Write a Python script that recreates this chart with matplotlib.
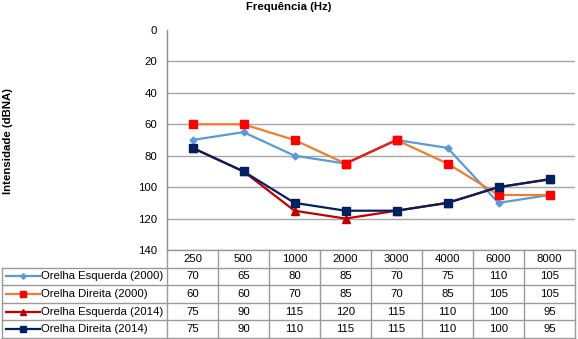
import numpy as np
import matplotlib
matplotlib.use('Agg')
import matplotlib.pyplot as plt

plt.rcParams['font.family'] = ['Liberation Sans', 'DejaVu Sans']

# - Chart data
freqs = ['250', '500', '1000', '2000', '3000', '4000', '6000', '8000']
series_names = ['Orelha Esquerda (2000)', 'Orelha Direita (2000)',
                'Orelha Esquerda (2014)', 'Orelha Direita (2014)']
esq_2000 = [70, 65, 80, 85, 70, 75, 110, 105]
dir_2000 = [60, 60, 70, 85, 70, 85, 105, 105]
esq_2014 = [75, 90, 115, 120, 115, 110, 100, 95]
dir_2014 = [75, 90, 110, 115, 115, 110, 100, 95]
y_ticks = [0, 20, 40, 60, 80, 100, 120, 140]

# - Style for each series: line colour, marker, marker face, marker size
styles = [
    dict(color='#5b9bd5', marker='D', mfc='#5b9bd5', mec='#5b9bd5', ms=3.5),
    dict(color='#ed7d31', marker='s', mfc='#ff0000', mec='#ff0000', ms=6),
    dict(color='#c00000', marker='^', mfc='#c00000', mec='#c00000', ms=5.5),
    dict(color='#002060', marker='s', mfc='#002060', mec='#002060', ms=6),
]
all_series = [esq_2000, dir_2000, esq_2014, dir_2014]
fs = 8.2

W, H = 578, 339
fig = plt.figure(figsize=(W / 100, H / 100), dpi=100)

# - Plot area (pixel layout)
px_left, px_right, px_top, px_bot = 167, 575, 30, 250
ax = fig.add_axes([px_left / W, 1 - px_bot / H,
                   (px_right - px_left) / W, (px_bot - px_top) / H])
x = np.arange(len(freqs))
for vals, st in zip(all_series, styles):
    ax.plot(x, vals, lw=1.6, color=st['color'], marker=st['marker'],
            mfc=st['mfc'], mec=st['mec'], ms=st['ms'], zorder=3)
# - the 2000-3000 segment of Orelha Direita (2000) is drawn red
seg = slice(3, 5)
ax.plot(x[seg], np.array(dir_2000)[seg], lw=1.6, color='#e0201b', zorder=3.5)
ax.plot(x[seg], np.array(dir_2000)[seg], ls='none', marker='s', ms=6,
        mfc='#ff0000', mec='#ff0000', zorder=3.6)

ax.set_xlim(-0.5, len(freqs) - 0.5)
ax.set_ylim(140, 0)
ax.set_yticks(y_ticks)
ax.set_yticklabels([str(v) for v in y_ticks], fontsize=fs)
ax.set_xticks([])
ax.tick_params(axis='y', length=0, pad=7)
for side in ['top', 'right', 'bottom']:
    ax.spines[side].set_visible(False)
ax.spines['left'].set_color('#8c8c8c')
ax.spines['left'].set_linewidth(1.0)
ax.yaxis.grid(True, color='#a6a6a6', lw=1.0)
ax.get_ygridlines()[0].set_visible(False)
ax.set_axisbelow(True)

fig.text(0.5, 1 - 7 / H, 'Frequência (Hz)', ha='center', va='center',
         fontsize=fs, fontweight='bold')
fig.text(8 / W, 1 - 141 / H, 'Intensidade (dBNA)', ha='center',
         va='center', rotation=90, fontsize=fs, fontweight='bold')

# - Data table below the plot
cw = (px_right - px_left) / len(freqs)
lab_w = (px_left - 2) / cw
tab_top, tab_bot = 250, 338
tax = fig.add_axes([2 / W, 1 - tab_bot / H,
                    (px_right - 2) / W, (tab_bot - tab_top) / H])
x0 = -0.5 - lab_w
x1 = len(freqs) - 0.5
n_rows = len(series_names) + 1
tax.set_xlim(x0, x1)
tax.set_ylim(n_rows, 0)
tax.axis('off')
grid_c = '#9a9a9a'
tax.plot([-0.5, x1], [0, 0], color=grid_c, lw=1.0, clip_on=False)
for r in range(1, n_rows + 1):
    tax.plot([x0, x1], [r, r], color=grid_c, lw=1.0, clip_on=False)
for c in range(len(freqs) + 1):
    tax.plot([c - 0.5, c - 0.5], [0, n_rows], color=grid_c, lw=1.0,
             clip_on=False)
tax.plot([x0, x0], [1, n_rows], color=grid_c, lw=1.0, clip_on=False)

for c, f in enumerate(freqs):
    tax.text(c, 0.5, f, ha='center', va='center', fontsize=fs)
for r, (name, vals, st) in enumerate(zip(series_names, all_series, styles)):
    yr = r + 1.5
    tax.plot([x0 + 4 / cw, x0 + 38 / cw], [yr, yr], lw=1.6,
             color=st['color'], clip_on=False)
    tax.plot([x0 + 21 / cw], [yr], ls='none', marker=st['marker'],
             mfc=st['mfc'], mec=st['mec'], ms=st['ms'] * 0.8, clip_on=False)
    tax.text(x0 + 39 / cw, yr, name, ha='left', va='center', fontsize=fs)
    for c, v in enumerate(vals):
        tax.text(c, yr, str(v), ha='center', va='center', fontsize=fs)

fig.savefig('out.png', dpi=100)
